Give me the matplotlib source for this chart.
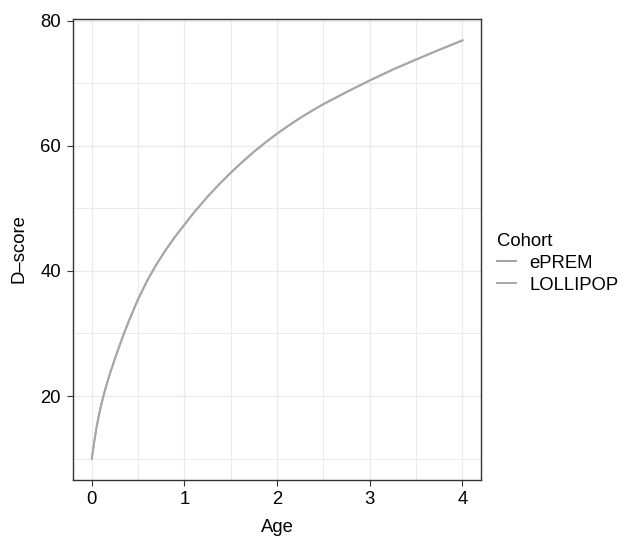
import matplotlib.pyplot as plt

# D-score growth curves by cohort
age = [0, 0.025, 0.05, 0.075, 0.1, 0.125, 0.15, 0.2, 0.25, 0.3, 0.35, 0.4, 0.5,
       0.6, 0.7, 0.8, 0.9, 1.0, 1.1, 1.25, 1.375, 1.5, 1.625, 1.75, 1.875, 2.0,
       2.125, 2.25, 2.375, 2.5, 2.75, 3.0, 3.25, 3.5, 3.75, 4.0]
eprem = [10.0, 12.6, 14.9, 16.8, 18.5, 20.0, 21.3, 23.8, 26.0, 28.1, 30.1, 32.0, 35.5,
         38.5, 41.1, 43.4, 45.5, 47.4, 49.3, 51.88, 53.86, 55.71, 57.43, 59.05, 60.55, 61.95,
         63.25, 64.46, 65.6, 66.67, 68.6, 70.45, 72.2, 73.8, 75.35, 76.85]
lollipop = [10.0, 12.6, 14.9, 16.8, 18.5, 20.0, 21.3, 23.8, 26.0, 28.1, 30.1, 32.0, 35.5,
            38.5, 41.1, 43.4, 45.5, 47.4, 49.3, 51.88, 53.86, 55.71, 57.43, 59.05, 60.55, 61.95,
            63.25, 64.46, 65.6, 66.67, 68.6, 70.45, 72.2, 73.8, 75.35, 76.85]
cohorts = ["ePREM", "LOLLIPOP"]

plt.rcParams['font.family'] = ['Liberation Sans', 'DejaVu Sans']
fs = 13.3

fig = plt.figure(figsize=(6.21, 5.38), dpi=100)
ax = fig.add_axes([0.118, 0.1087, 0.6566, 0.8569])

ax.plot(age, eprem, color='#a3a3a3', lw=1.4, label=cohorts[0])
ax.plot(age, lollipop, color='#a8a8a8', lw=1.4, label=cohorts[1])

ax.set_xlim(-0.2, 4.2)
ax.set_ylim(6.65, 80.35)
ax.set_xticks([0, 1, 2, 3, 4])
ax.set_yticks([20, 40, 60, 80])
ax.set_xticks([0.5, 1.5, 2.5, 3.5], minor=True)
ax.set_yticks([10, 30, 50, 70], minor=True)
ax.grid(which='major', color='#ebebeb', lw=1.0)
ax.grid(which='minor', color='#ebebeb', lw=0.7)
ax.set_axisbelow(True)
ax.tick_params(which='major', length=4, width=0.8, color='#333333', labelsize=fs, labelcolor='black')
ax.tick_params(axis='x', pad=4.5)
ax.tick_params(axis='y', pad=5)
ax.tick_params(which='minor', length=0)
for s in ax.spines.values():
    s.set_color('#333333')
    s.set_linewidth(1.0)

ax.set_xlabel("Age", fontsize=fs, labelpad=8)
ax.set_ylabel("D–score", fontsize=fs, labelpad=9)

leg = fig.legend(loc='upper left', bbox_to_anchor=(0.801, 0.567), title="Cohort",
                 frameon=False, fontsize=fs, title_fontsize=fs,
                 borderpad=0, borderaxespad=0,
                 handlelength=1.0, handletextpad=0.75, labelspacing=0.27)
leg._legend_box.align = "left"

fig.savefig("out.png", dpi=100)
